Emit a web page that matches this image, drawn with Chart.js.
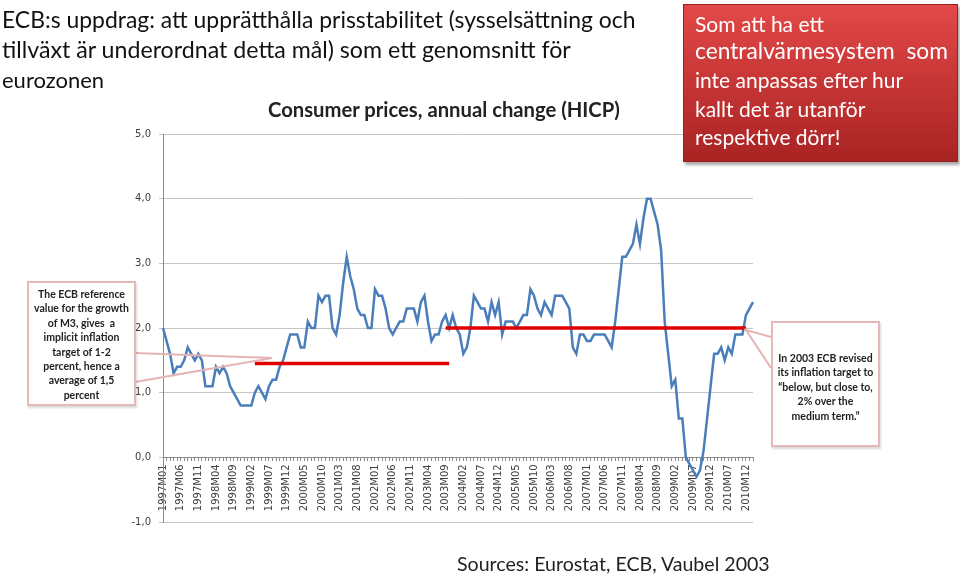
<!DOCTYPE html>
<html>
<head>
<meta charset="utf-8">
<script src="https://cdn.jsdelivr.net/npm/chart.js@4.4.0/dist/chart.umd.min.js"></script>
<style>
    body { margin: 0; width: 960px; height: 576px; position: relative; overflow: hidden; background: #fff; font-family: Lato, "Open Sans", sans-serif; }
    #hicpChart { position: absolute; left: 0; top: 0; }
    .line { position: absolute; white-space: nowrap; line-height: 1; color: #111; }
    .redbox { position: absolute; left: 683px; top: 4px; width: 273px; height: 156px; background: linear-gradient(#e34848, #a92323); border: 1px solid #9a2020; box-shadow: 2px 3px 3px rgba(0,0,0,0.35); }
    .callout { position: absolute; background: #fff; border: 2px solid #e6b8b7; box-shadow: 1px 2px 2px rgba(0,0,0,0.15); text-align: center; font-weight: bold; font-size: 10.5px; line-height: 14.4px; color: #222; box-sizing: border-box; }
    svg { position: absolute; left: 0; top: 0; }
</style>
</head>
<body>
<canvas id="hicpChart" width="960" height="576"></canvas>
<svg width="960" height="576">
    <polyline points="135,353 272,358 135,382" fill="none" stroke="#e4b4b4" stroke-width="2"/>
    <polyline points="771,337 746,330 771,368" fill="none" stroke="#e4b4b4" stroke-width="2"/>
</svg>

<div class="line" data-base="28" data-left="2" data-w="634" style="font-size:22px">ECB:s uppdrag: att upprätthålla prisstabilitet (sysselsättning och</div>
<div class="line" data-base="59" data-left="2" data-w="569" style="font-size:22px">tillväxt är underordnat detta mål) som ett genomsnitt för</div>
<div class="line" data-base="89" data-left="2" style="font-size:22px">eurozonen</div>
<div class="line" data-base="117" data-left="268" data-w="352" style="font-size:18px;font-weight:bold;color:#222">Consumer prices, annual change (HICP)</div>
<div class="line" data-base="571" data-left="457" data-w="313" style="font-size:19px;color:#222">Sources: Eurostat, ECB, Vaubel 2003</div>

<div class="redbox"></div>
<div class="line" data-base="32" data-left="695" style="font-size:21px;color:#fff">Som att ha ett</div>
<div class="line" data-base="60" data-left="695" data-w="253" style="font-size:21px;color:#fff">centralvärmesystem&nbsp; som</div>
<div class="line" data-base="88" data-left="695" style="font-size:21px;color:#fff">inte anpassas efter hur</div>
<div class="line" data-base="117" data-left="695" style="font-size:21px;color:#fff">kallt det är utanför</div>
<div class="line" data-base="145" data-left="695" style="font-size:21px;color:#fff">respektive dörr!</div>

<div class="callout" style="left:27px;top:281px;width:109px;height:125px;padding-top:4px">The ECB reference<br>value for the growth<br>of M3, gives&nbsp; a<br>implicit inflation<br>target of 1-2<br>percent, hence a<br>average of 1,5<br>percent</div>
<div class="callout" style="left:771px;top:321px;width:109px;height:126px;padding-top:28px">In 2003 ECB revised<br>its inflation target to<br>“below, but close to,<br>2% over the<br>medium term.”</div>

<script>
// HICP annual change, euro area, monthly from 1997M01
const hicp = [
    2.0, 1.8, 1.6, 1.3, 1.4, 1.4, 1.5, 1.7, 1.6, 1.5, 1.6, 1.5,
    1.1, 1.1, 1.1, 1.4, 1.3, 1.4, 1.3, 1.1, 1.0, 0.9, 0.8, 0.8,
    0.8, 0.8, 1.0, 1.1, 1.0, 0.9, 1.1, 1.2, 1.2, 1.4, 1.5, 1.7,
    1.9, 1.9, 1.9, 1.7, 1.7, 2.1, 2.0, 2.0, 2.5, 2.4, 2.5, 2.5,
    2.0, 1.9, 2.2, 2.7, 3.1, 2.8, 2.6, 2.3, 2.2, 2.2, 2.0, 2.0,
    2.6, 2.5, 2.5, 2.3, 2.0, 1.9, 2.0, 2.1, 2.1, 2.3, 2.3, 2.3,
    2.1, 2.4, 2.5, 2.1, 1.8, 1.9, 1.9, 2.1, 2.2, 2.0, 2.2, 2.0,
    1.9, 1.6, 1.7, 2.0, 2.5, 2.4, 2.3, 2.3, 2.1, 2.4, 2.2, 2.4,
    1.9, 2.1, 2.1, 2.1, 2.0, 2.1, 2.2, 2.2, 2.6, 2.5, 2.3, 2.2,
    2.4, 2.3, 2.2, 2.5, 2.5, 2.5, 2.4, 2.3, 1.7, 1.6, 1.9, 1.9,
    1.8, 1.8, 1.9, 1.9, 1.9, 1.9, 1.8, 1.7, 2.1, 2.6, 3.1, 3.1,
    3.2, 3.3, 3.6, 3.3, 3.7, 4.0, 4.0, 3.8, 3.6, 3.2, 2.1, 1.6,
    1.1, 1.2, 0.6, 0.6, 0.0, -0.1, -0.2, -0.3, -0.2, 0.1, 0.6, 1.1,
    1.6, 1.6, 1.7, 1.5, 1.7, 1.6, 1.9, 1.9, 1.9, 2.2, 2.3, 2.4
];

// months 1997M01 .. 2010M12
const months = [];
for (let y = 1997; y <= 2010; y++) {
    for (let m = 1; m <= 12; m++) months.push(y + 'M' + String(m).padStart(2, '0'));
}

// labels as printed under the axis, one every fifth month
const tickLabels = [
    '1997M01', '1997M06', '1997M11', '1998M04', '1998M09', '1999M02', '1999M07', '1999M12',
    '2000M05', '2000M10', '2001M03', '2001M08', '2002M01', '2002M06', '2002M11', '2003M04',
    '2003M09', '2004M02', '2004M07', '2004M12', '2005M05', '2005M10', '2006M03', '2006M08',
    '2007M01', '2007M06', '2007M11', '2008M04', '2008M09', '2009M02', '2009M07', '2009M12',
    '2010M07', '2010M12'
];

// implicit target (M3 reference) and revised 2003 target
const targetOld = [{ x: '1999M03', y: 1.45 }, { x: '2003M10', y: 1.45 }];
const targetNew = [{ x: '2003M09', y: 2.0 }, { x: '2010M10', y: 2.0 }];

document.querySelectorAll('.line').forEach(el => {
    let fs = parseFloat(el.style.fontSize);
    if (el.dataset.w) {
        const w = el.getBoundingClientRect().width;
        fs = fs * parseFloat(el.dataset.w) / w;
        el.style.fontSize = fs + 'px';
    }
    el.style.left = el.dataset.left + 'px';
    el.style.top = (parseFloat(el.dataset.base) - 0.887 * fs) + 'px';
});

const axisFont = { family: 'DejaVu Sans', size: 10 };

const ctx = document.getElementById('hicpChart').getContext('2d');
new Chart(ctx, {
    type: 'line',
    data: {
        labels: months,
        datasets: [
            { data: targetOld, borderColor: '#e00000', borderWidth: 3.5, pointRadius: 0 },
            { data: targetNew, borderColor: '#e00000', borderWidth: 3.5, pointRadius: 0 },
            { data: hicp, borderColor: '#4a7ebb', borderWidth: 2.5, pointRadius: 0, tension: 0 }
        ]
    },
    options: {
        responsive: false,
        animation: false,
        layout: { padding: { top: 134, right: 207, bottom: 54, left: 0 } },
        plugins: { legend: { display: false }, tooltip: { enabled: false } },
        scales: {
            x: {
                position: { y: 0 },
                offset: false,
                border: { color: '#8c8c8c' },
                grid: { drawOnChartArea: false, tickLength: 3, color: '#8c8c8c' },
                ticks: {
                    autoSkip: false,
                    minRotation: 90,
                    maxRotation: 90,
                    padding: 4,
                    color: '#404040',
                    font: axisFont,
                    callback: (v, i) => i % 5 === 0 ? tickLabels[i / 5] : ''
                }
            },
            y: {
                min: -1,
                max: 5,
                afterFit: scale => { scale.width = 163; },
                border: { color: '#8c8c8c' },
                grid: { color: '#c4c4c4', tickLength: 4 },
                ticks: {
                    stepSize: 1,
                    padding: 8,
                    color: '#404040',
                    font: axisFont,
                    callback: v => v.toFixed(1).replace('.', ',')
                }
            }
        }
    }
});
</script>
</body>
</html>
